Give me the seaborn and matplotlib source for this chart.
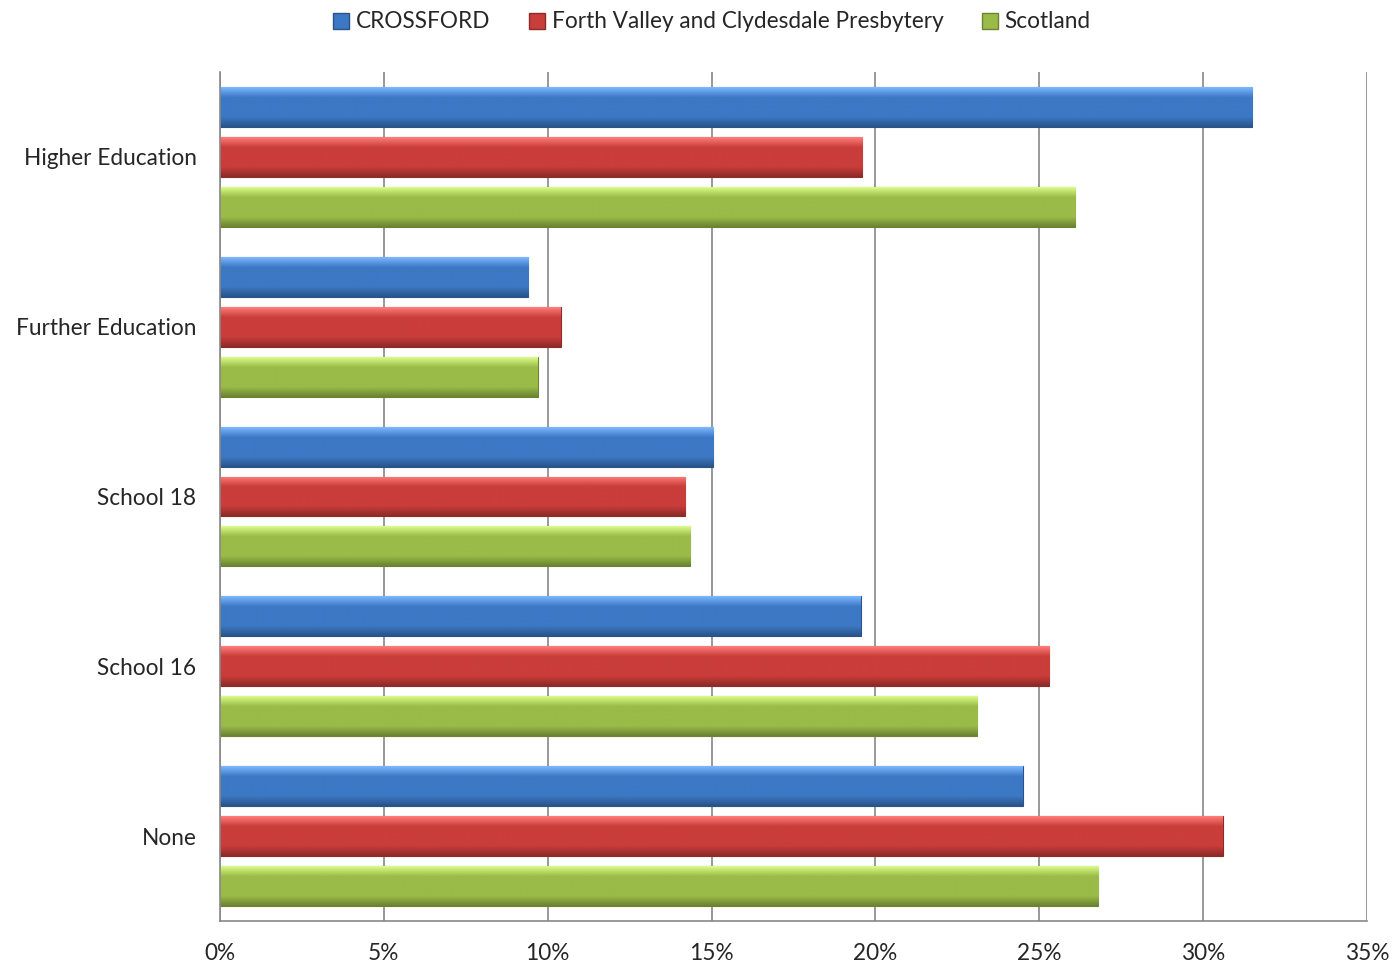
import numpy as np
import pandas as pd
import matplotlib
matplotlib.use("Agg")
import matplotlib.pyplot as plt
import seaborn as sns
from matplotlib.colors import LinearSegmentedColormap, to_rgb
from matplotlib.patches import Patch

categories = ["Higher Education", "Further Education", "School 18", "School 16", "None"]
series = ["CROSSFORD", "Forth Valley and Clydesdale Presbytery", "Scotland"]
crossford = [31.5, 9.4, 15.05, 19.55, 24.5]
presbytery = [19.6, 10.4, 14.2, 25.3, 30.6]
scotland = [26.1, 9.7, 14.35, 23.1, 26.8]
xticks = [0, 5, 10, 15, 20, 25, 30, 35]
colors = ["#3c78c4", "#c93d3a", "#9abb48"]

rows = []
for s, vals in zip(series, [crossford, presbytery, scotland]):
    for c, v in zip(categories, vals):
        rows.append({"category": c, "series": s, "value": v})
df = pd.DataFrame(rows)

sns.set_theme(style="white")
plt.rcParams["font.family"] = ["Lato", "DejaVu Sans"]

fig = plt.figure(figsize=(13.93, 9.64), dpi=100)
ax = fig.add_axes([220/1393, 1-921/964, (1367-220)/1393, (921-72)/964])

sns.barplot(data=df, y="category", x="value", hue="series", order=categories,
            hue_order=series, palette=colors, orient="h", width=0.882, gap=0.2,
            ax=ax, legend=False, saturation=1)

# bevel-like shading on each bar
for i, p in enumerate(ax.patches):
    base = np.array(to_rgb(p.get_facecolor()))
    light = np.clip(base + 0.25, 0, 1)
    dark = base * 0.7
    cmap = LinearSegmentedColormap.from_list("g", [light, base, base, base, dark])
    x0, y0 = p.get_x(), p.get_y()
    w, h = p.get_width(), p.get_height()
    grad = np.linspace(0, 1, 64).reshape(-1, 1)
    im = ax.imshow(grad, extent=[x0, x0 + w, y0 + h, y0], aspect="auto",
                   cmap=cmap, origin="upper", zorder=p.get_zorder() + 0.1)
    im.set_clip_path(p)
    p.set_edgecolor(dark)
    p.set_linewidth(0.8)

ax.set_xlim(0, 35)
ax.set_ylim(len(categories) - 0.5, -0.5)
ax.set_xticks(xticks)
ax.set_xticklabels([f"{t}%" for t in xticks], fontsize=16.3)
ax.tick_params(axis="x", length=0, pad=16)
ax.tick_params(axis="y", length=0, pad=17, labelsize=16.3)
ax.set_xlabel("")
ax.set_ylabel("")
ax.xaxis.grid(True, color="#888888", linewidth=1.2)
ax.set_axisbelow(True)
for side in ["top", "right"]:
    ax.spines[side].set_visible(False)
for side in ["left", "bottom"]:
    ax.spines[side].set_color("#888888")
    ax.spines[side].set_linewidth(1.2)

handles = [Patch(facecolor=c, edgecolor=np.array(to_rgb(c)) * 0.7) for c in colors]
fig.legend(handles, series, loc="center", bbox_to_anchor=(712/1393, 1 - 22/964), ncol=3,
           frameon=False, fontsize=16.3, handlelength=0.7, handleheight=0.7,
           handletextpad=0.3, columnspacing=1.7)

fig.savefig("out.png", dpi=100)
